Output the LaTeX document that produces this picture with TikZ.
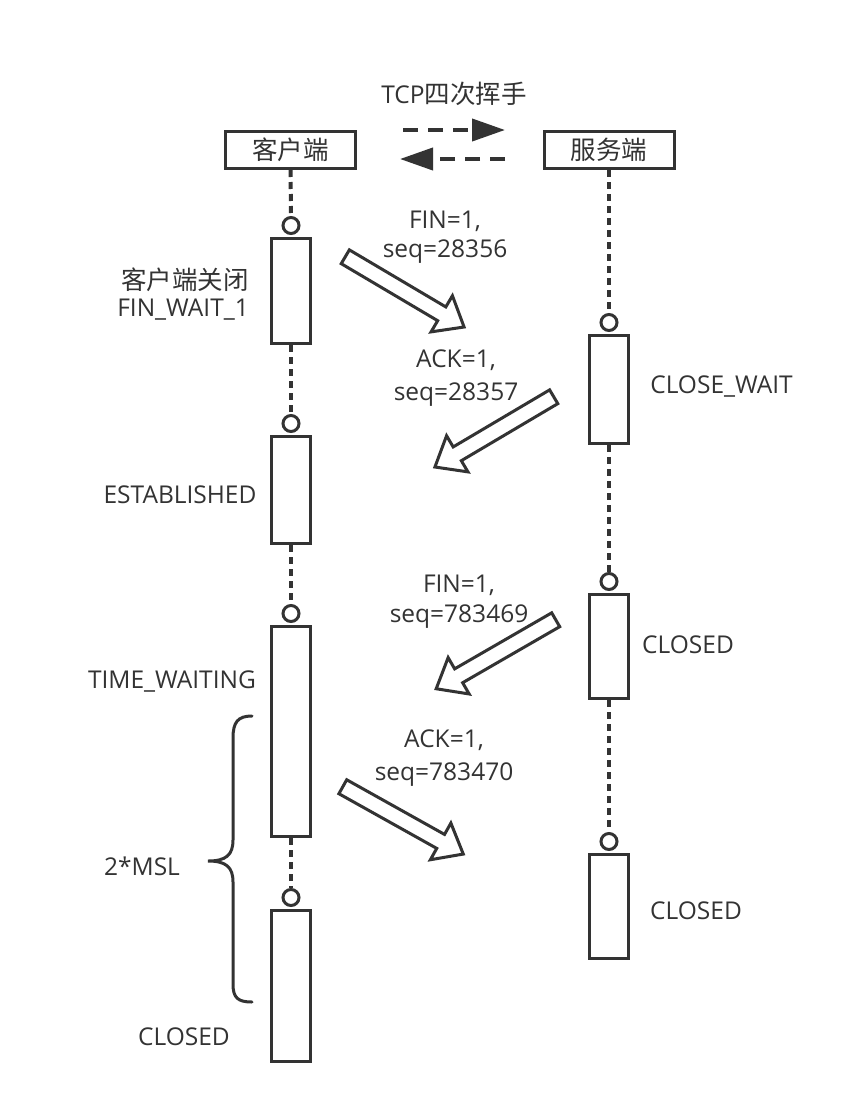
\documentclass[tikz,border=0pt]{standalone}
\usepackage{fontspec}
\setmainfont{Open Sans}
\newfontfamily\cjkfont{Noto Sans CJK SC}
\usetikzlibrary{shapes.arrows,arrows.meta,positioning}
\definecolor{ink}{HTML}{333333}
\newcommand\zh[1]{{\cjkfont\fontsize{25.5}{27}\selectfont #1}}
\begin{document}
\begin{tikzpicture}[x=1pt,y=-1pt,
  headbox/.style={draw=ink, line width=3pt, minimum width=130pt, minimum height=37pt, inner sep=0pt, text=ink},
  act/.style={draw=ink, line width=3pt, fill=white, minimum width=39pt, inner sep=0pt},
  knob/.style={circle, draw=ink, line width=3pt, fill=white, minimum size=16pt, inner sep=0pt},
  life/.style={draw=ink, line width=4pt, dash pattern=on 7pt off 5pt},
  swap/.style={draw=ink, line width=4pt, dash pattern=on 15pt off 10pt, -{Triangle[length=33pt,width=22pt]}},
  blockarrow/.style={single arrow, draw=ink, line width=3pt, fill=white, minimum height=138pt,
     inner sep=0pt, inner ysep=6.5pt, single arrow head extend=13pt, single arrow tip angle=78, anchor=tail},
  lbl/.style={text=ink, inner sep=0pt, font=\fontsize{24.5}{29}\selectfont, align=center},
  brace/.style={draw=ink, line width=3pt, line cap=round}
]
\useasboundingbox (0,0) rectangle (860,1114);
\fill[white] (0,0) rectangle (860,1114);

% title and header
\node[lbl, anchor=base] (title) at (454,103) {TCP\zh{四次挥手}};
\node[headbox] (h1) at (290.5,150) {\raisebox{-2pt}{\zh{客户端}}};
\node[headbox] (h2) at (609,150) {\raisebox{-2pt}{\zh{服务端}}};
\coordinate (ta1) at (403,130);
\coordinate (ta2) at (505,130);
\coordinate (tb1) at (505,159);
\coordinate (tb2) at (400,159);
\draw[swap] (ta1) -- (ta2);
\draw[swap] (tb1) -- (tb2);

% client activations
\node[act, minimum height=105pt] (c1) at (291,291) {};
\node[act, minimum height=107pt] (c2) at (291,490) {};
\node[act, minimum height=210pt] (c3) at (291,731.5) {};
\node[act, minimum height=151pt] (c4) at (291,986) {};
\node[knob, above=2pt of c1] (k1) {};
\node[knob, above=2pt of c2] (k2) {};
\node[knob, above=2pt of c3] (k3) {};
\node[knob, above=2pt of c4] (k4) {};
\draw[life] (h1.south) -- (k1.north);
\draw[life] (c1.south) -- (k2.north);
\draw[life] (c2.south) -- (k3.north);
\draw[life] (c3.south) -- (k4.north);

% server activations
\node[act, minimum height=108pt] (s1) at (609,389.5) {};
\node[act, minimum height=104pt] (s2) at (609,646.5) {};
\node[act, minimum height=104pt] (s3) at (609,906.5) {};
\node[knob, above=2pt of s1] (m1) {};
\node[knob, above=2pt of s2] (m2) {};
\node[knob, above=2pt of s3] (m3) {};
\draw[life] (h2.south) -- (m1.north);
\draw[life] (s1.south) -- (m2.north);
\draw[life] (s2.south) -- (m3.north);

% block arrows
\node[blockarrow, rotate=-30.6] (a1) at (344,256) {};
\node[blockarrow, rotate=-149.4] (a2) at (555,396) {};
\node[blockarrow, rotate=-150] (a3) at (557,619) {};
\node[blockarrow, rotate=-29.2] (a4) at (341.5,786) {};

% message labels
\node[lbl, anchor=north, font=\fontsize{24.5}{29}\selectfont] (t1) at (445,211) {FIN=1,\\seq=28356};
\node[lbl, anchor=north, font=\fontsize{24.5}{33}\selectfont] (t2) at (456,349.5) {ACK=1,\\seq=28357};
\node[lbl, anchor=north, font=\fontsize{24.5}{30}\selectfont] (t3) at (459,575) {FIN=1,\\seq=783469};
\node[lbl, anchor=north, font=\fontsize{24.5}{33}\selectfont] (t4) at (444,730) {ACK=1,\\seq=783470};

% state labels
\node[lbl, anchor=north east, align=right, font=\fontsize{24.5}{27}\selectfont] (l1) at (249,268) {\zh{客户端关闭}\\FIN\_WAIT\_1};
\node[lbl, anchor=base] (l2) at (180,503) {ESTABLISHED};
\node[lbl, anchor=base] (l3) at (172,688) {TIME\_WAITING};
\node[lbl, anchor=base] (l4) at (142,875) {2*MSL};
\node[lbl, anchor=base] (l5) at (184,1045) {CLOSED};
\node[lbl, anchor=base] (r1) at (721.5,393) {CLOSE\_WAIT};
\node[lbl, anchor=base] (r2) at (688,653) {CLOSED};
\node[lbl, anchor=base] (r3) at (696,919) {CLOSED};

% brace
\draw[brace] (252,716) .. controls (238,716) and (233,722) .. (233,738)
  -- (233,840) .. controls (233,855) and (226,861) .. (208,861)
  .. controls (226,861) and (233,867) .. (233,882)
  -- (233,984) .. controls (233,998) and (238,1002) .. (252,1002);
\end{tikzpicture}
\end{document}
